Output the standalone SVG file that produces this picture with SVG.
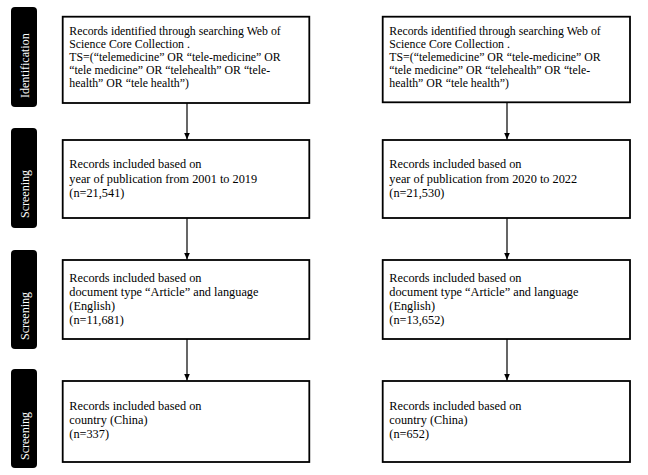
<svg xmlns="http://www.w3.org/2000/svg" width="648" height="475" viewBox="0 0 648 475">
<defs>
<style>
.bar{fill:#000}
.bt{fill:#fff;font-family:"Liberation Serif","Times New Roman",serif;font-size:12px}
.box{fill:#fff;stroke:#000;stroke-width:1.8}
.t{fill:#000;font-family:"Liberation Serif","Times New Roman",serif;font-size:12.3px}
.t1{fill:#000;font-family:"Liberation Serif","Times New Roman",serif;font-size:11.8px}
.cl{stroke:#000;stroke-width:1.2;fill:none}
.cr{stroke:#555;stroke-width:1.8;fill:none}
</style>
<marker id="ah" markerWidth="7" markerHeight="6" refX="7" refY="3" orient="auto" markerUnits="userSpaceOnUse" viewBox="0 0 7 6">
<path d="M0,0 L7,3 L0,6 Z" fill="#000"/>
</marker>
</defs>
<rect width="648" height="475" fill="#fff"/>
<g id="stage-identification">
<rect class="bar" x="11" y="7" width="26" height="100" rx="4"/>
<text class="bt" transform="translate(29,98) rotate(-90)">Identification</text>
</g>
<g id="stage-screening-1">
<rect class="bar" x="11" y="128" width="26" height="100" rx="4"/>
<text class="bt" transform="translate(29,218) rotate(-90)">Screening</text>
</g>
<g id="stage-screening-2">
<rect class="bar" x="11" y="250" width="26" height="99" rx="4"/>
<text class="bt" transform="translate(29,340) rotate(-90)">Screening</text>
</g>
<g id="stage-screening-3">
<rect class="bar" x="11" y="369" width="26" height="99" rx="4"/>
<text class="bt" transform="translate(29,460) rotate(-90)">Screening</text>
</g>
<g id="connectors">
<line class="cl" x1="187" y1="103" x2="187" y2="139.5" marker-end="url(#ah)"/>
<line class="cl" x1="187" y1="218" x2="187" y2="259.5" marker-end="url(#ah)"/>
<line class="cl" x1="187" y1="339" x2="187" y2="380.5" marker-end="url(#ah)"/>
<line class="cr" x1="507" y1="102" x2="507" y2="139.5" marker-end="url(#ah)"/>
<line class="cr" x1="507" y1="218" x2="507" y2="259.5" marker-end="url(#ah)"/>
<line class="cr" x1="507" y1="339" x2="507" y2="380.5" marker-end="url(#ah)"/>
</g>
<g id="left-identified">
<rect class="box" x="62.7" y="16.7" width="246.6" height="86.3"/>
<text class="t1" x="69.3" y="35">Records identified through searching Web of</text>
<text class="t1" x="69.3" y="48">Science Core Collection .</text>
<text class="t1" x="69.3" y="61">TS=(“telemedicine” OR “tele-medicine” OR</text>
<text class="t1" x="69.3" y="74">“tele medicine” OR “telehealth” OR “tele-</text>
<text class="t1" x="69.3" y="87">health” OR “tele health”)</text>
</g>
<g id="right-identified">
<rect class="box" x="382.7" y="16.7" width="247.3" height="85.6"/>
<text class="t1" x="389.3" y="35">Records identified through searching Web of</text>
<text class="t1" x="389.3" y="48">Science Core Collection .</text>
<text class="t1" x="389.3" y="61">TS=(“telemedicine” OR “tele-medicine” OR</text>
<text class="t1" x="389.3" y="74">“tele medicine” OR “telehealth” OR “tele-</text>
<text class="t1" x="389.3" y="87">health” OR “tele health”)</text>
</g>
<g id="left-year">
<rect class="box" x="62.7" y="140" width="246.6" height="78"/>
<text class="t" x="69.3" y="168">Records included based on</text>
<text class="t" x="69.3" y="183">year of publication from 2001 to 2019</text>
<text class="t" x="69.3" y="197">(n=21,541)</text>
</g>
<g id="right-year">
<rect class="box" x="382.7" y="140" width="247.3" height="78"/>
<text class="t" x="389.3" y="168">Records included based on</text>
<text class="t" x="389.3" y="183">year of publication from 2020 to 2022</text>
<text class="t" x="389.3" y="197">(n=21,530)</text>
</g>
<g id="left-doctype">
<rect class="box" x="62.7" y="260" width="246.6" height="79"/>
<text class="t" x="69.3" y="282">Records included based on</text>
<text class="t" x="69.3" y="296">document type “Article” and language</text>
<text class="t" x="69.3" y="310">(English)</text>
<text class="t" x="69.3" y="324">(n=11,681)</text>
</g>
<g id="right-doctype">
<rect class="box" x="382.7" y="260" width="247.3" height="79"/>
<text class="t" x="389.3" y="282">Records included based on</text>
<text class="t" x="389.3" y="296">document type “Article” and language</text>
<text class="t" x="389.3" y="310">(English)</text>
<text class="t" x="389.3" y="324">(n=13,652)</text>
</g>
<g id="left-country">
<rect class="box" x="62.7" y="381" width="246.6" height="81"/>
<text class="t" x="69.3" y="410">Records included based on</text>
<text class="t" x="69.3" y="424">country (China)</text>
<text class="t" x="69.3" y="438">(n=337)</text>
</g>
<g id="right-country">
<rect class="box" x="382.7" y="381" width="247.3" height="81"/>
<text class="t" x="389.3" y="410">Records included based on</text>
<text class="t" x="389.3" y="424">country (China)</text>
<text class="t" x="389.3" y="438">(n=652)</text>
</g>
</svg>
